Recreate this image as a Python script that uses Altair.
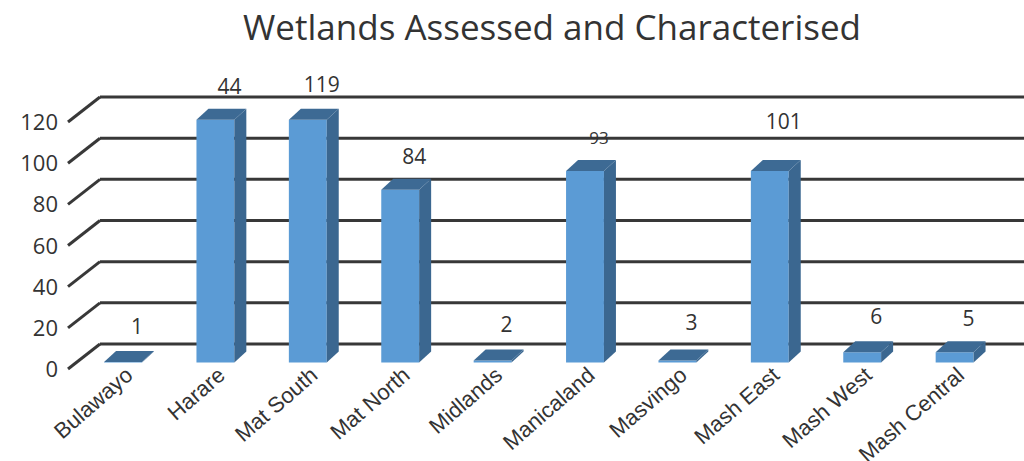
import altair as alt
import pandas as pd

# ---------------- data ----------------
categories = ["Bulawayo", "Harare", "Mat South", "Mat North", "Midlands",
              "Manicaland", "Masvingo", "Mash East", "Mash West", "Mash Central"]
bar_heights = [0.3, 118, 118, 84, 1, 93, 1, 93, 5, 5]          # drawn bar heights
value_labels = ["1", "44", "119", "84", "2", "93", "3", "101", "6", "5"]  # printed labels
y_ticks = [0, 20, 40, 60, 80, 100, 120]
title_text = "Wetlands Assessed and Characterised"

# ---------------- layout constants (pixels) ----------------
W, H = 1024, 461
X0_PX, STEP_PX = 123, 92.4       # first category centre, spacing
BASE_PX, UNIT_PX = 362.5, 2.058  # bar-plane zero, px per unit
BAR_W = 0.41                     # in category units
DEPTH_DX, DEPTH_DY = 12, 11      # 3D depth of bars
WALL_DY = 18.5                   # back wall above bar plane
FRONT_DY = 6.5                   # front edge below bar plane

x_dom = [(0 - X0_PX) / STEP_PX, (W - X0_PX) / STEP_PX]
y_dom = [-(H - BASE_PX) / UNIT_PX, BASE_PX / UNIT_PX]
ddx = DEPTH_DX / STEP_PX
ddy = DEPTH_DY / UNIT_PX

xs = alt.Scale(domain=x_dom, nice=False, zero=False)
ys = alt.Scale(domain=y_dom, nice=False, zero=False)

FRONT = "#5B9BD5"
DARK = "#3B6790"
GRID = "#383838"
TEXT = "#333333"
FONT = "Open Sans"
CAT_FONT = "Liberation Sans"

# ---------------- tables ----------------
rows, side, top = [], [], []
for i, (c, v, lab) in enumerate(zip(categories, bar_heights, value_labels)):
    L, R = i - BAR_W / 2, i + BAR_W / 2
    rows.append(dict(cat=c, i=i, L=L, R=R, v=v, z=0, label=lab,
                     ly=max(v, float(lab))))
    side += [dict(cat=c, x=R, y=v, y2=0),
             dict(cat=c, x=R + ddx, y=v + ddy, y2=ddy)]
    top += [dict(cat=c, x=L, y=v, y2=v),
            dict(cat=c, x=L + ddx, y=v + ddy, y2=v),
            dict(cat=c, x=R, y=v + ddy, y2=v),
            dict(cat=c, x=R + ddx, y=v + ddy, y2=v + ddy)]
bars = pd.DataFrame(rows)
side = pd.DataFrame(side)
top = pd.DataFrame(top)
grid = pd.DataFrame({"g": y_ticks})

# ---------------- layers ----------------
back_lines = alt.Chart(grid).mark_rule(
    color=GRID, strokeWidth=3, yOffset=-WALL_DY
).encode(x=alt.value(100), x2=alt.value(W), y=alt.Y("g:Q", scale=ys, axis=None))

slants = alt.Chart(grid).mark_rule(
    color=GRID, strokeWidth=3, yOffset=FRONT_DY, y2Offset=-WALL_DY
).encode(x=alt.value(68), x2=alt.value(100),
         y=alt.Y("g:Q", scale=ys, axis=None), y2="g:Q")

ytick_text = alt.Chart(grid).mark_text(
    align="right", baseline="middle", fontSize=22, font=FONT, color=TEXT,
    yOffset=FRONT_DY + 1
).encode(x=alt.value(58), y=alt.Y("g:Q", scale=ys, axis=None), text="g:Q")

front = alt.Chart(bars).mark_bar(color=FRONT).encode(
    x=alt.X("L:Q", scale=xs, axis=None), x2="R:Q",
    y=alt.Y("z:Q", scale=ys, axis=None), y2="v:Q")

side_face = alt.Chart(side).mark_area(color=DARK, opacity=1).encode(
    x=alt.X("x:Q", scale=xs, axis=None),
    y=alt.Y("y:Q", scale=ys, axis=None), y2="y2:Q", detail="cat:N")

top_face = alt.Chart(top).mark_area(color="#3D6A94", opacity=1).encode(
    x=alt.X("x:Q", scale=xs, axis=None),
    y=alt.Y("y:Q", scale=ys, axis=None), y2="y2:Q", detail="cat:N")

cat_text = alt.Chart(bars).mark_text(
    angle=319, align="right", baseline="top", fontSize=22, font=CAT_FONT,
    color=TEXT, xOffset=0, yOffset=2
).encode(x=alt.X("i:Q", scale=xs, axis=None),
         y=alt.Y("z:Q", scale=ys, axis=None), text="cat:N")

val_text = alt.Chart(bars).mark_text(
    align="center", baseline="middle", font=FONT, color=TEXT,
    xOffset=14, yOffset=-32
).encode(x=alt.X("i:Q", scale=xs, axis=None),
         y=alt.Y("ly:Q", scale=ys, axis=None), text="label:N",
         size=alt.when(alt.datum.label == "93").then(alt.value(17)).otherwise(alt.value(21)))

title = alt.Chart(pd.DataFrame({"t": [title_text]})).mark_text(
    align="center", baseline="alphabetic", fontSize=35, font=FONT, color=TEXT
).encode(x=alt.value(552), y=alt.value(40), text="t:N")

chart = alt.layer(
    back_lines, slants, ytick_text, front, side_face, top_face,
    cat_text, val_text, title
).properties(
    width=W, height=H, padding=0, autosize=alt.AutoSizeParams(type="none"),
    background="white"
).configure_view(stroke=None)

chart.save("out.html", embed_options={"renderer": "svg", "actions": False})
